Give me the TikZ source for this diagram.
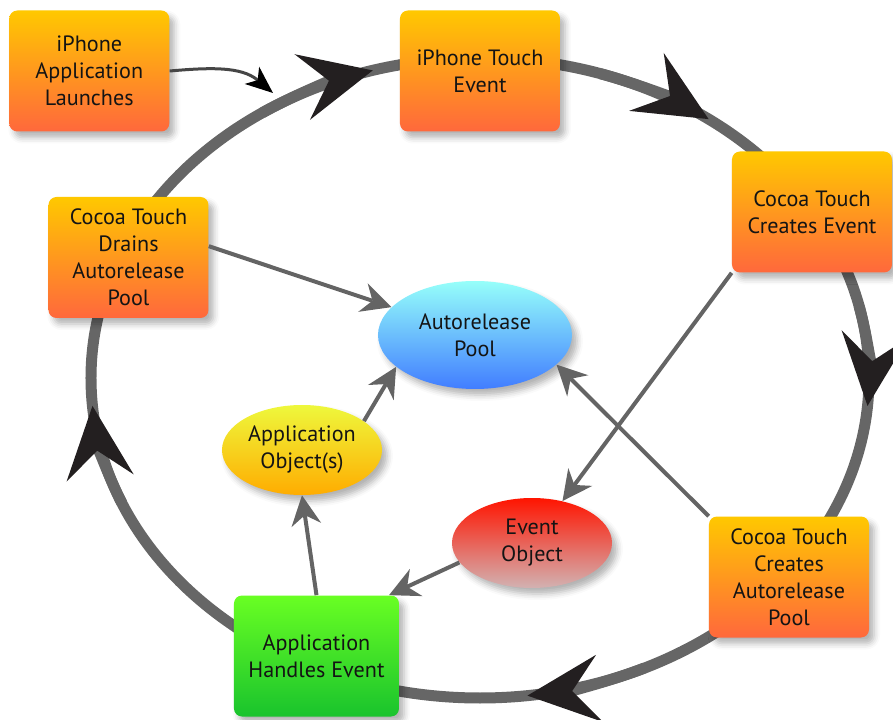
\documentclass[tikz,border=0pt]{standalone}
\usepackage{fontspec}
\setmainfont{PT Sans}
\usetikzlibrary{positioning, arrows.meta, shapes.geometric, shadows.blur}

\definecolor{ringgrey}{RGB}{102,102,102}
\definecolor{headblack}{RGB}{35,31,32}
\definecolor{linkgrey}{RGB}{100,100,100}
\definecolor{feedgrey}{RGB}{70,70,70}
\definecolor{ink}{RGB}{20,20,20}
\definecolor{orangetop}{RGB}{255,200,0}
\definecolor{orangebot}{RGB}{255,104,60}
\definecolor{greentop}{RGB}{105,255,35}
\definecolor{greenbot}{RGB}{25,195,45}
\definecolor{pooltop}{RGB}{150,255,250}
\definecolor{poolbot}{RGB}{65,125,255}
\definecolor{objtop}{RGB}{238,248,60}
\definecolor{objbot}{RGB}{255,172,0}
\definecolor{evtop}{RGB}{255,20,0}
\definecolor{evbot}{RGB}{210,178,178}

\tikzset{
  softshadow/.style={blur shadow={shadow xshift=0.1cm, shadow yshift=-0.12cm, shadow blur radius=0.12cm, shadow opacity=30}},
  box/.style={rectangle, rounded corners=0.16cm, minimum width=3.2cm, minimum height=2.42cm, align=center,
    top color=orangetop, bottom color=orangebot, text=ink, softshadow},
  blob/.style={ellipse, inner sep=0pt, minimum width=3.2cm, minimum height=1.8cm, align=center, text=ink, softshadow},
  ring/.style={draw=ringgrey, line width=0.22cm},
  ringarc/.style={x radius=7.78, y radius=6.4},
  head/.style={-{Stealth[length=1.45cm, width=1.35cm, inset=0.55cm, color=headblack, line width=0pt]}},
  link/.style={draw=linkgrey, line width=0.08cm, -{Stealth[length=0.6cm, width=0.6cm, inset=0.2cm, line width=0pt]}},
  feed/.style={draw=feedgrey, line width=0.06cm, -{Stealth[length=0.55cm, width=0.45cm, inset=0.15cm, color=black, line width=0pt]}}
}

\begin{document}
\begin{tikzpicture}[font=\fontsize{12.6}{15.4}\selectfont]
  \useasboundingbox (-9.6,-6.84) rectangle (8.26,7.56);
  \coordinate (hub) at (0,0);

  % el ciclo va detras de las cajas
  \draw[ring] (hub) ellipse [ringarc];
  \draw[ring, head] (hub) ++(124:7.78 and 6.4) arc [start angle=124, end angle=106, ringarc];
  \draw[ring, head] (hub) ++(72:7.78 and 6.4) arc [start angle=72, end angle=54, ringarc];
  \draw[ring, head] (hub) ++(13:7.78 and 6.4) arc [start angle=13, end angle=-5, ringarc];
  \draw[ring, head] (hub) ++(-65:7.78 and 6.4) arc [start angle=-65, end angle=-83, ringarc];
  \draw[ring, head] (hub) ++(203:7.78 and 6.4) arc [start angle=203, end angle=185, ringarc];

  \node[box] (touch) at (0,6.14) {iPhone Touch\\Event};
  \node[box, left=4.6cm of touch] (launch) {iPhone\\Application\\Launches};
  \node[box] (cevent) at (6.64,3.32) {Cocoa Touch\\Creates Event};
  \node[box] (cpool) at (6.18,-3.98) {Cocoa Touch\\Creates\\Autorelease\\Pool};
  \node[box, top color=greentop, bottom color=greenbot, minimum width=3.3cm] (handles) at (-3.27,-5.56) {Application\\Handles Event};
  \node[box] (drains) at (-7.03,2.41) {Cocoa Touch\\Drains\\Autorelease\\Pool};

  \node[blob, top color=pooltop, bottom color=poolbot, minimum width=3.88cm, minimum height=2.16cm] (pool) at (-0.1,0.86) {Autorelease\\Pool};
  \node[blob, top color=objtop, bottom color=objbot] (appobj) at (-3.56,-1.44) {Application\\Object(s)};
  \node[blob, top color=evtop, bottom color=evbot] (evobj) at (1.04,-3.3) {Event\\Object};

  \coordinate (entry) at (-4.14,5.7);
  \draw[feed] (launch.east) to[out=5, in=140] (entry);

  \draw[link] (drains.8) -- (pool);
  \draw[link] (appobj.25) -- (pool.202);
  \draw[link] (cpool.north west) -- (pool.-20);
  \draw[link] (cevent.south west) -- (evobj.54);
  \draw[link] (evobj.195) -- (handles.40);
  \draw[link] (handles.north) -- (appobj.south);
\end{tikzpicture}
\end{document}
